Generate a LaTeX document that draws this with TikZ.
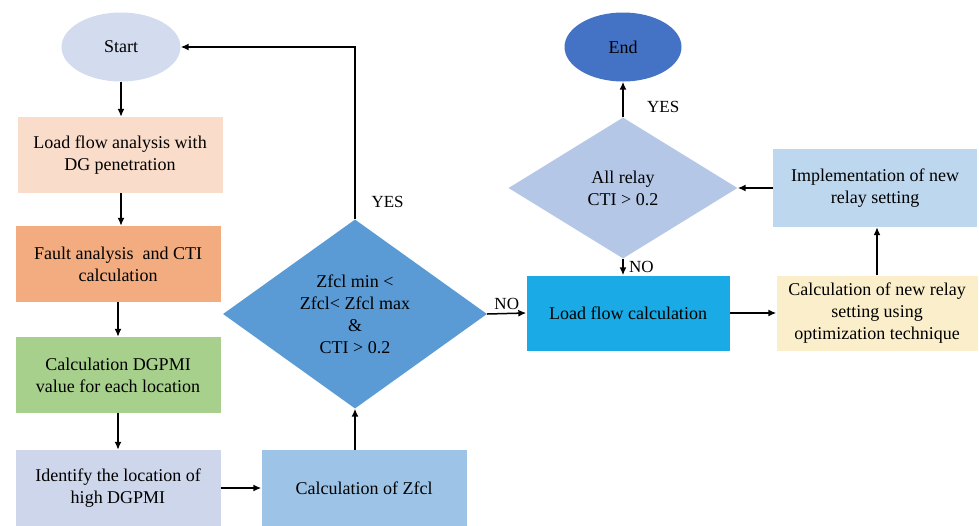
\documentclass[tikz,border=0pt]{standalone}
\usepackage{fontspec}
\setmainfont{Liberation Serif}
\usetikzlibrary{arrows,arrows.meta,shapes}
\definecolor{startclr}{HTML}{D3DBEE}
\definecolor{endclr}{HTML}{4472C4}
\definecolor{loadclr}{HTML}{F9DCC9}
\definecolor{faultclr}{HTML}{F2AC80}
\definecolor{dgpmiclr}{HTML}{A8D08D}
\definecolor{identclr}{HTML}{CDD6EA}
\definecolor{zfclclr}{HTML}{9DC3E6}
\definecolor{zdecclr}{HTML}{5B9BD5}
\definecolor{lfcclr}{HTML}{1AABE6}
\definecolor{newclr}{HTML}{FBEFCB}
\definecolor{implclr}{HTML}{BDD7EE}
\definecolor{ctidecclr}{HTML}{B4C7E7}
\tikzstyle{terminal}=[ellipse,minimum width=119pt,minimum height=69pt,inner sep=0pt,font=\fontsize{18}{22}\selectfont]
\tikzstyle{procbox}=[rectangle,minimum width=205pt,minimum height=76pt,inner sep=2pt,align=center,font=\fontsize{18}{22}\selectfont]
\tikzstyle{decision}=[diamond,inner sep=0pt,align=center,font=\fontsize{18}{22}\selectfont]
\tikzstyle{edge}=[draw,line width=1.5pt,-{Latex[length=8pt,width=7pt]}]
\tikzstyle{answer}=[font=\fontsize{17}{20}\selectfont]

\begin{document}
\begin{tikzpicture}[x=1pt,y=-1pt]
    \useasboundingbox (0,0) rectangle (979,525);

    % left column
    \node[terminal, fill=startclr] (start) at (121,47) {Start};
    \node[procbox, fill=loadclr] (load) at (120,155) {Load flow analysis with\\DG penetration};
    \node[procbox, fill=faultclr] (fault) at (118,264) {Fault analysis\ \ and CTI\\calculation};
    \node[procbox, fill=dgpmiclr] (dgpmi) at (118,375) {Calculation DGPMI\\value for each location};
    \node[procbox, fill=identclr] (ident) at (118,488) {Identify the location of\\high DGPMI};

    % middle
    \node[procbox, fill=zfclclr] (zfcl) at (364,488) {Calculation of Zfcl};
    \node[decision, fill=zdecclr, minimum width=264pt, minimum height=177pt] (zdec) at (355,314)
        {Zfcl min <\\Zfcl< Zfcl max\\\&\\CTI > 0.2};

    % right part
    \node[procbox, fill=lfcclr, minimum width=203pt, minimum height=75pt] (lfc) at (628,313) {Load flow calculation};
    \node[procbox, fill=newclr, minimum width=201pt, minimum height=75pt] (newset) at (877,313)
        {Calculation of new relay\\setting using\\optimization technique};
    \node[procbox, fill=implclr, minimum width=204pt, minimum height=78pt] (impl) at (875,188)
        {Implementation of new\\relay setting};
    \node[decision, fill=ctidecclr, minimum width=229pt, minimum height=141pt] (ctidec) at (623,188)
        {All relay\\CTI > 0.2};
    \node[terminal, fill=endclr, minimum width=117pt] (end) at (623,47) {End};

    \draw[edge] (start.south) -- (start.south |- load.north);
    \draw[edge] (load.south -| start.south) -- (start.south |- fault.north);
    \draw[edge] (fault) -- (dgpmi);
    \draw[edge] (dgpmi) -- (ident);
    \draw[edge] (ident.east) -- (zfcl.west);
    \draw[edge] (zfcl.north -| zdec.south) -- (zdec.south);
    \draw[edge] (zdec.north) |- (start.east);
    \node[answer, anchor=south west] at ([xshift=13pt,yshift=8pt]zdec.north) {YES};
    \draw[edge] (zdec.east) -- node[answer, above] {NO} (lfc.west);
    \draw[edge] (lfc.east) -- (newset.west);
    \draw[edge] (newset.north) -- (newset.north |- impl.south);
    \draw[edge] (impl.west) -- (ctidec.east);
    \draw[edge] (ctidec.south) -- node[answer, right, xshift=2pt] {NO} (lfc.north -| ctidec.south);
    \draw[edge] (ctidec.north) -- node[answer, right, xshift=20pt, yshift=-7pt] {YES} (end.south);

\end{tikzpicture}
\end{document}
